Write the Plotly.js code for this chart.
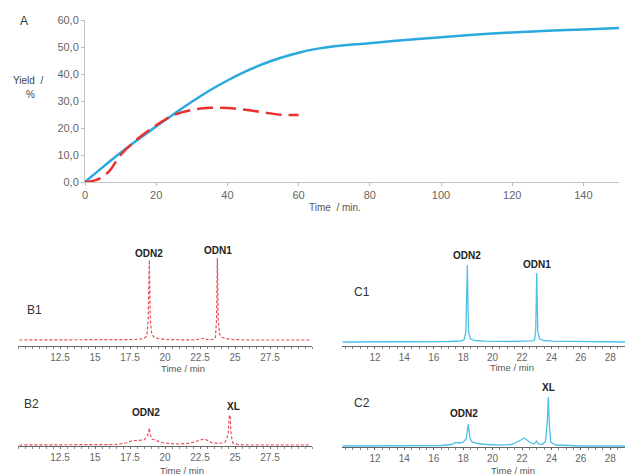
<!DOCTYPE html>
<html>
<head>
<meta charset="utf-8">
<script src="https://cdn.plot.ly/plotly-3.0.1.min.js"></script>
<style>html,body{margin:0;padding:0;background:#fff;}#chart{width:625px;height:475px;}</style>
</head>
<body>
<div id="chart"></div>
<script>
// Panel A: yield vs time
const aTimeBlue = [0,5,10,15,20,25,30,35,40,45,50,55,60,65,70,75,80,90,100,110,120,130,140,150];
const aYieldBlue = [0,5.5,10.8,15.8,20.6,25.2,29.7,33.9,37.6,40.9,43.7,46.0,47.9,49.3,50.3,50.9,51.4,52.6,53.6,54.6,55.4,56.0,56.5,57.0];
const aTimeRed = [0,3,5,7,10,15,20,25,30,35,40,45,50,55,60];
const aYieldRed = [0,0.7,2.0,4.3,10.0,16.2,21,24.8,26.7,27.5,27.4,26.8,25.8,24.9,24.8];
const aYTickVals = [0,10,20,30,40,50,60];
const aYTickText = ['0,0','10,0','20,0','30,0','40,0','50,0','60,0'];

// Panel B1 (red dashed chromatogram)
const b1Time = [9.6,12,15,17,18,18.5,18.7,18.8,18.88,18.95,19.05,19.2,19.5,20,21,22,22.7,22.85,23.0,23.4,23.6,23.68,23.74,23.8,23.9,24.05,24.3,24.8,26,28,30.4];
const b1Int  = [0,0,0,0.3,0.5,1.5,4,20,80,20,6,3,1.5,0.5,0,0,1.5,2,0.5,0.5,2,20,82,20,6,3,1.5,0.5,0,0,0];
// Panel B2
const b2Time = [9.6,14,16.5,17.2,17.6,17.9,18.2,18.5,18.7,18.82,18.88,18.94,19.05,19.4,19.8,20.3,21,21.6,22.1,22.5,22.85,23.1,23.4,23.9,24.3,24.5,24.6,24.66,24.72,24.85,25.2,26,30.4];
const b2Int  = [0,0,0.5,2,4,4.5,5,5,8,12,17,11,6,4,2.5,1.5,1,1.5,3,5,6,4,2,1.5,3,10,30,28,10,2,0.5,0,0];
// Panel C1 (blue chromatogram)
const c1Time = [9.8,12,15,17,17.8,18.05,18.18,18.28,18.36,18.5,18.8,19.5,21,22.5,22.7,22.85,22.93,23.0,23.07,23.2,23.5,24,26,29];
const c1Int  = [0,0,0.3,0.5,1,2,10,77,10,3,1.5,0.8,0.5,1,1.2,2,12,69,10,3,1.5,0.8,0.3,0];
// Panel C2
const c2Time = [9.8,14,16.5,17.2,17.5,17.8,18.0,18.2,18.35,18.45,18.6,19,19.6,20.5,21.3,21.8,22.15,22.5,22.8,23.0,23.1,23.4,23.6,23.72,23.79,23.86,23.95,24.3,25,26,29];
const c2Int  = [0,0.3,0.5,1.5,3.5,3,4,7,22,8,4,2.5,1.5,0.8,1.5,5,8,4,2,5,2,1.5,5,25,49,20,4,1,0.3,0,0];

const bTickVals = [12.5,15,17.5,20,22.5,25,27.5];
const bTickText = ['12.5','15','17.5','20','22.5','25','27.5'];
const cTickVals = [12,14,16,18,20,22,24,26,28];

const W = 625, H = 475;
const px = x => x / W;
const py = y => 1 - y / H;

const BLUE = '#2aa9df';
const RED = '#e8312f';
const BRED = '#e94b55';
const CBLUE = '#4fc1e8';

const traces = [
  {x: aTimeBlue, y: aYieldBlue, xaxis: 'x', yaxis: 'y', mode: 'lines', line: {color: BLUE, width: 2.5, shape: 'spline'}},
  {x: aTimeRed, y: aYieldRed, xaxis: 'x', yaxis: 'y', mode: 'lines', line: {color: RED, width: 2.5, shape: 'spline', dash: '16px,7px'}},
  {x: b1Time, y: b1Int, xaxis: 'x2', yaxis: 'y2', mode: 'lines', line: {color: BRED, width: 1.2, dash: '3px,2px'}},
  {x: b2Time, y: b2Int, xaxis: 'x3', yaxis: 'y3', mode: 'lines', line: {color: BRED, width: 1.2, dash: '3px,2px'}},
  {x: c1Time, y: c1Int, xaxis: 'x4', yaxis: 'y4', mode: 'lines', line: {color: CBLUE, width: 1.3}},
  {x: c2Time, y: c2Int, xaxis: 'x5', yaxis: 'y5', mode: 'lines', line: {color: CBLUE, width: 1.3}}
];

const tickFont = {family: 'Liberation Sans, Arial, sans-serif', size: 10, color: '#666'};
function chromX(domain, anchor, range, tickvals, ticktext) {
  const ax = {
    domain: domain, anchor: anchor, range: range,
    tickmode: 'array', tickvals: tickvals,
    ticks: 'outside', ticklen: 2, tickcolor: '#666', tickwidth: 1,
    ticklabelstandoff: 0,
    minor: {ticks: 'outside', dtick: 0.5, ticklen: 2, tickcolor: '#888'},
    showline: true, linecolor: '#666', linewidth: 1,
    showgrid: false, zeroline: false, tickfont: tickFont, fixedrange: true
  };
  if (ticktext) ax.ticktext = ticktext;
  return ax;
}
function hiddenY(domain, range) {
  return {domain: domain, range: range, visible: false, showgrid: false, zeroline: false, fixedrange: true};
}

const layout = {
  width: W, height: H,
  margin: {l: 0, r: 0, t: 0, b: 0},
  paper_bgcolor: '#fff', plot_bgcolor: 'rgba(0,0,0,0)',
  showlegend: false,
  font: {family: 'Liberation Sans, Arial, sans-serif', color: '#444'},
  xaxis: {
    domain: [px(85), px(619)], anchor: 'y', range: [0, 150], dtick: 20,
    ticks: 'outside', ticklen: 3, tickcolor: '#bbb',
    showline: true, linecolor: '#c4c4c4', linewidth: 1,
    showgrid: false, zeroline: false,
    tickfont: {family: 'Liberation Sans, Arial, sans-serif', size: 11, color: '#666'}
  },
  yaxis: {
    domain: [py(182), py(20)], anchor: 'x', range: [0, 60],
    tickmode: 'array', tickvals: aYTickVals, ticktext: aYTickText,
    ticks: 'outside', ticklen: 3, tickcolor: '#bbb',
    showline: true, linecolor: '#c4c4c4', linewidth: 1,
    showgrid: false, zeroline: false,
    tickfont: {family: 'Liberation Sans, Arial, sans-serif', size: 11, color: '#666'}
  },
  xaxis2: chromX([px(18), px(312)], 'y2', [9.5, 30.5], bTickVals, bTickText),
  yaxis2: hiddenY([py(346), py(246)], [-6, 94]),
  xaxis3: chromX([px(18), px(312)], 'y3', [9.5, 30.5], bTickVals, bTickText),
  yaxis3: hiddenY([py(446), py(380)], [-1, 65]),
  xaxis4: chromX([px(342), 1], 'y4', [9.76, 29.0], cTickVals),
  yaxis4: hiddenY([py(346), py(246)], [-4, 96]),
  xaxis5: chromX([px(342), 1], 'y5', [9.76, 29.0], cTickVals),
  yaxis5: hiddenY([py(447), py(381)], [-1, 65]),
  annotations: []
};

function note(text, x, y, opts) {
  opts = opts || {};
  layout.annotations.push({
    text: text, xref: 'paper', yref: 'paper', x: px(x), y: py(y),
    xanchor: opts.xanchor || 'center', yanchor: 'middle', showarrow: false,
    font: {family: 'Liberation Sans, Arial, sans-serif', size: opts.size || 10, color: opts.color || '#555'}
  });
}
note('A', 24, 21, {size: 12, color: '#333'});
note('Yield  /', 28, 81, {size: 10, color: '#444'});
note('%', 30, 95, {size: 10, color: '#444'});
note('Time  / min.', 307, 207, {xanchor: 'left', size: 10});
note('B1', 34, 310, {size: 12, color: '#333'});
note('B2', 31, 404, {size: 12, color: '#333'});
note('C1', 362, 292, {size: 12, color: '#333'});
note('C2', 362, 403, {size: 12, color: '#333'});
note('<b>ODN2</b>', 149, 253, {color: '#222'});
note('<b>ODN1</b>', 218, 250, {color: '#222'});
note('<b>ODN2</b>', 146, 412, {color: '#222'});
note('<b>XL</b>', 233, 406, {color: '#222'});
note('<b>ODN2</b>', 467, 255, {color: '#222'});
note('<b>ODN1</b>', 537, 264, {color: '#222'});
note('<b>ODN2</b>', 464, 413, {color: '#222'});
note('<b>XL</b>', 548, 387, {color: '#222'});
note('Time / min', 183, 368, {size: 9.5});
note('Time / min', 182, 470, {size: 9.5});
note('Time / min', 512, 367, {size: 9.5});
note('Time / min', 513, 470, {size: 9.5});

Plotly.newPlot('chart', traces, layout, {displayModeBar: false, staticPlot: true});
</script>
</body>
</html>
